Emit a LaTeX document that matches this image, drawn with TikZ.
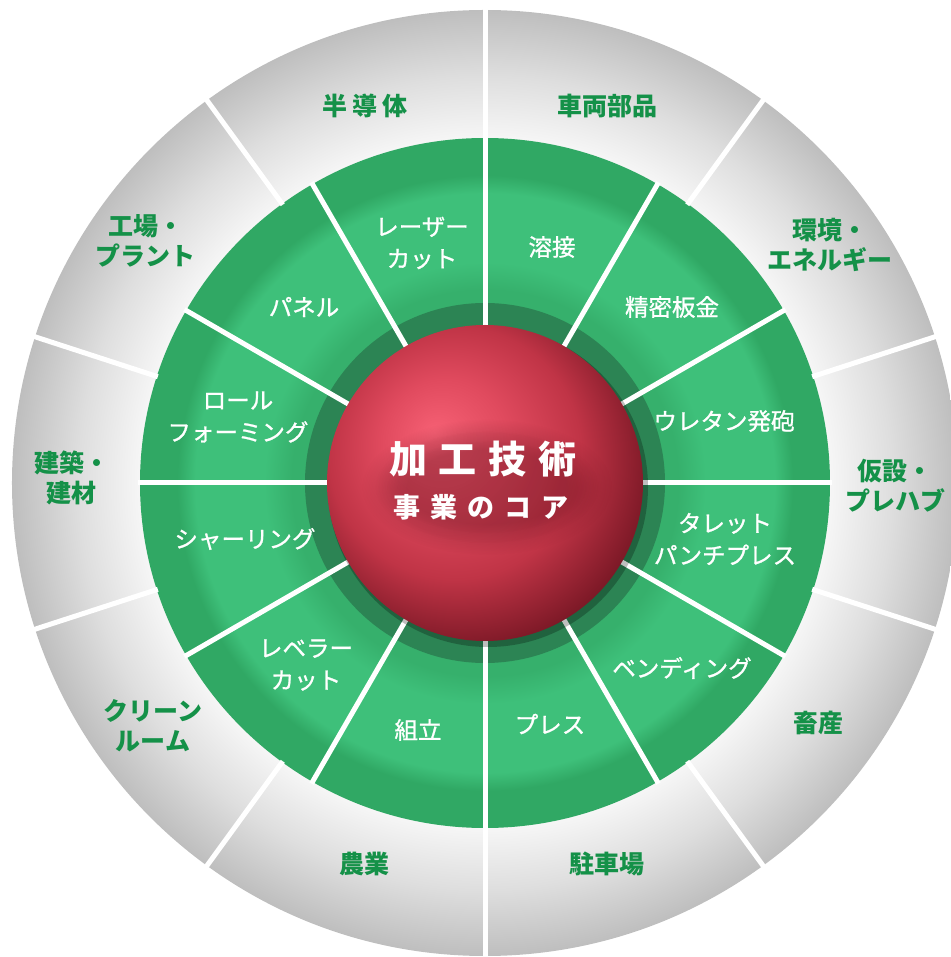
\documentclass[tikz,border=0pt]{standalone}
\usepackage{fontspec}
\usetikzlibrary{fadings}
\newfontfamily\cjk{Noto Sans CJK JP}
\newfontfamily\cjkmed{Noto Sans CJK JP}[FakeBold=1]
\definecolor{gA}{RGB}{62,192,122}
\definecolor{gB}{RGB}{48,168,100}
\definecolor{gC}{RGB}{44,132,84}
\definecolor{gD}{RGB}{54,176,108}
\definecolor{txtg}{RGB}{20,145,72}
\definecolor{grayA}{RGB}{246,246,246}
\definecolor{grayB}{RGB}{222,222,222}
\definecolor{grayC}{RGB}{190,190,190}
\definecolor{spA}{RGB}{246,96,116}
\definecolor{spB}{RGB}{224,74,94}
\definecolor{spC}{RGB}{192,52,70}
\definecolor{spD}{RGB}{128,26,40}
\definecolor{spE}{RGB}{62,8,16}
\definecolor{shad}{RGB}{90,14,26}
\pgfdeclareradialshading{greyring}{\pgfpoint{0bp}{0bp}}{color(0bp)=(grayA); color(18.2bp)=(grayA); color(21.5bp)=(grayB); color(25bp)=(grayC); color(50bp)=(grayC)}
\pgfdeclareradialshading{greendisk}{\pgfpoint{0bp}{0bp}}{color(0bp)=(gD); color(14bp)=(gD); color(16bp)=(gA); color(21bp)=(gA); color(22.3bp)=(gB); color(25bp)=(gB); color(50bp)=(gB)}
\pgfdeclareradialshading{sphere}{\pgfpoint{-8bp}{8bp}}{color(0bp)=(spA); color(10bp)=(spB); color(20bp)=(spC); color(29bp)=(spD); color(37bp)=(spE); color(50bp)=(spE)}
\tikzset{
  divider/.style={white, line width=5pt},
  outerlab/.style={font=\cjk\bfseries\fontsize{25}{30}\selectfont, text=txtg, align=center, inner sep=0pt},
  greenlab/.style={font=\cjkmed\fontsize{23.5}{32}\selectfont, text=white, align=center, inner sep=0pt},
  corebig/.style={font=\cjk\bfseries\fontsize{38}{40}\selectfont, text=white, inner sep=0pt},
  coresmall/.style={font=\cjk\bfseries\fontsize{27}{30}\selectfont, text=white, inner sep=0pt},
  softshadow/.style={fill=shad, opacity=0.14, path fading=circle with fuzzy edge 20 percent}
}
\begin{document}
\begin{tikzpicture}[x=1pt,y=1pt]
\useasboundingbox (-485,-474) rectangle (465,483);
% rings
\path[shading=greyring] (0,0) circle (473);
\path[shading=greendisk] (0,0) circle (345);
\fill[gC] (0,0) circle (180);
% dividers
\foreach \a in {90,126,...,414} \draw[divider] (\a:344) -- (\a:480);
\foreach \a in {0,30,...,330} \draw[divider] (\a:150) -- (\a:347);
% sphere
\fill[black, opacity=0.25] (3,-4) circle (160);
\path[shading=sphere] (0,0) circle (158);
% soft shadow behind core text
\path[softshadow] (2,-4) ellipse (125 and 68);
\path[softshadow] (2,-4) ellipse (112 and 56);
\path[softshadow] (2,-4) ellipse (100 and 46);
% core text
\node[corebig] (core1) at (-2,24) {加\hspace{12pt}工\hspace{12pt}技\hspace{12pt}術};
\node[coresmall] (core2) at (-4,-24) {事\hspace{10pt}業\hspace{10pt}の\hspace{10pt}コ\hspace{10pt}ア};
% green labels
\node[greenlab] (g1) at (-63,240) {レーザー\\カット};
\node[greenlab] (g2) at (67,236) {溶接};
\node[greenlab] (g3) at (187,176) {精密板金};
\node[greenlab] (g4) at (239,62) {ウレタン発砲};
\node[greenlab] (g5) at (240,-56) {タレット\\パンチプレス};
\node[greenlab] (g6) at (197,-185) {ベンディング};
\node[greenlab] (g7) at (65,-241) {プレス};
\node[greenlab] (g8) at (-67,-247) {組立};
\node[greenlab] (g9) at (-179,-182) {レベラー\\カット};
\node[greenlab] (g10) at (-240,-56) {シャーリング};
\node[greenlab] (g11) at (-247,66) {ロール\\フォーミング};
\node[greenlab] (g12) at (-181,176) {パネル};
% outer labels
\node[outerlab] (o1) at (-120,377) {半\hspace{5pt}導\hspace{5pt}体};
\node[outerlab] (o2) at (122,377) {車両部品};
\node[outerlab] (o3) at (345,238) {環境・\\エネルギー};
\node[outerlab] (o4) at (410,-3) {仮設・\\プレハブ};
\node[outerlab] (o5) at (333,-240) {畜産};
\node[outerlab] (o6) at (122,-381) {駐車場};
\node[outerlab] (o7) at (-121,-381) {農業};
\node[outerlab] (o8) at (-332,-243) {クリーン\\ルーム};
\node[outerlab] (o9) at (-413,5) {建築・\\建材};
\node[outerlab] (o10) at (-339,242) {工場・\\プラント};
\end{tikzpicture}
\end{document}
